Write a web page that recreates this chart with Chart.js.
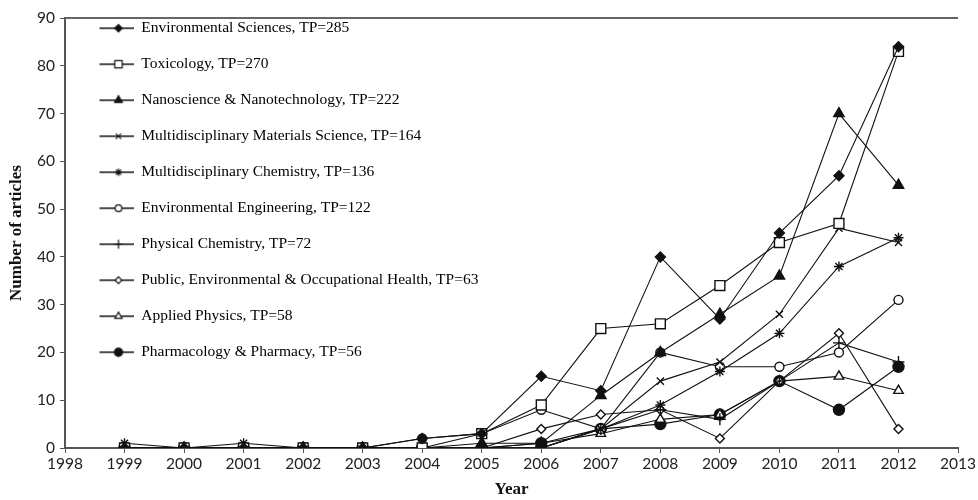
<!DOCTYPE html>
<html>
<head>
<meta charset="utf-8">
<script src="https://cdn.jsdelivr.net/npm/chart.js@4.4.1/dist/chart.umd.min.js"></script>
<style>
  html, body { margin: 0; padding: 0; background: #fff; overflow: hidden; }
  #wrap { width: 978px; height: 500px; position: relative; }
</style>
</head>
<body>
<div id="wrap"><canvas id="linechart" width="978" height="500"></canvas></div>
<script>
const years = [1999, 2000, 2001, 2002, 2003, 2004, 2005, 2006, 2007, 2008, 2009, 2010, 2011, 2012];

const envSciences   = [0, 0, 0, 0, 0, 2, 3, 15, 12, 40, 27, 45, 57, 84];
const toxicology    = [0, 0, 0, 0, 0, 0, 3,  9, 25, 26, 34, 43, 47, 83];
const nanoscience   = [0, 0, 0, 0, 0, 0, 1,  1, 11, 20, 28, 36, 70, 55];
const materialsSci  = [0, 0, 0, 0, 0, 0, 0,  0,  4, 14, 18, 28, 46, 43];
const multiChem     = [1, 0, 1, 0, 0, 0, 0,  0,  4,  9, 16, 24, 38, 44];
const envEngineer   = [0, 0, 0, 0, 0, 2, 3,  8,  4, 20, 17, 17, 20, 31];
const physChem      = [0, 0, 0, 0, 0, 0, 0,  0,  4,  8,  6, 14, 22, 18];
const publicHealth  = [0, 0, 0, 0, 0, 0, 0,  4,  7,  8,  2, 14, 24,  4];
const appliedPhys   = [0, 0, 0, 0, 0, 0, 0,  1,  3,  6,  7, 14, 15, 12];
const pharmacology  = [0, 0, 0, 0, 0, 0, 0,  1,  4,  5,  7, 14,  8, 17];

const seriesNames = [
    'Environmental Sciences, TP=285',
    'Toxicology, TP=270',
    'Nanoscience & Nanotechnology, TP=222',
    'Multidisciplinary Materials Science, TP=164',
    'Multidisciplinary Chemistry, TP=136',
    'Environmental Engineering, TP=122',
    'Physical Chemistry, TP=72',
    'Public, Environmental & Occupational Health, TP=63',
    'Applied Physics, TP=58',
    'Pharmacology & Pharmacy, TP=56'
];
const seriesValues = [envSciences, toxicology, nanoscience, materialsSci, multiChem,
                      envEngineer, physChem, publicHealth, appliedPhys, pharmacology];

// marker look per series: style, radius, filled
const markers = [
    { style: 'rectRot',  r: 5,   fill: true  },
    { style: 'rect',     r: 7,   fill: false },
    { style: 'triangle', r: 6,   fill: true  },
    { style: 'crossRot', r: 5,   fill: false },
    { style: 'star',     r: 5,   fill: false },
    { style: 'circle',   r: 4.5, fill: false },
    { style: 'cross',    r: 6,   fill: false },
    { style: 'rectRot',  r: 4.5, fill: false },
    { style: 'triangle', r: 5.5, fill: false },
    { style: 'circle',   r: 5.5, fill: true  }
];

const ink = '#111';

// legend icon: short line with the marker on it
function legendIcon(m) {
    const c = document.createElement('canvas');
    c.width = 48; c.height = 16;
    const g = c.getContext('2d');
    g.strokeStyle = ink; g.lineWidth = 1.5;
    g.beginPath(); g.moveTo(14, 8); g.lineTo(48, 8); g.stroke();
    g.fillStyle = m.fill ? ink : '#fff';
    g.lineWidth = 1.2;
    Chart.helpers.drawPoint(g, { pointStyle: m.style, radius: m.r * 0.75, borderWidth: 1.2, rotation: 0 }, 33, 8);
    return c;
}

const datasets = seriesNames.map((name, i) => ({
    label: name,
    data: years.map((yr, k) => ({ x: yr, y: seriesValues[i][k] })),
    borderColor: ink,
    borderWidth: 1.1,
    pointStyle: markers[i].style,
    pointRadius: markers[i].r,
    pointBorderWidth: 1.4,
    pointBorderColor: ink,
    pointBackgroundColor: markers[i].fill ? ink : '#fff',
    tension: 0
}));

const topLine = {
    id: 'topLine',
    afterDraw(chart) {
        const { ctx, chartArea } = chart;
        ctx.save();
        ctx.strokeStyle = '#666';
        ctx.lineWidth = 2;
        ctx.beginPath();
        ctx.moveTo(chartArea.left, chartArea.top);
        ctx.lineTo(chartArea.right, chartArea.top);
        ctx.stroke();
        ctx.restore();
    }
};

const tickFont = { family: 'Lato', size: 15.5 };
const titleFont = { family: 'Liberation Serif', size: 17, weight: 'bold' };

new Chart(document.getElementById('linechart').getContext('2d'), {
    type: 'line',
    data: { datasets: datasets },
    plugins: [topLine],
    options: {
        responsive: false,
        animation: false,
        layout: { padding: { top: 18, right: 16, left: 0, bottom: 0 } },
        plugins: {
            tooltip: { enabled: false },
            legend: {
                position: 'chartArea',
                align: 'start',
                labels: {
                    usePointStyle: true,
                    pointStyleWidth: 48,
                    padding: 20.5,
                    color: '#111',
                    font: { family: 'Liberation Serif', size: 15.5 },
                    generateLabels: function(chart) {
                        return chart.data.datasets.map((ds, i) => ({
                            text: ds.label,
                            datasetIndex: i,
                            pointStyle: legendIcon(markers[i]),
                            fillStyle: ink,
                            strokeStyle: ink,
                            lineWidth: 0,
                            hidden: false
                        }));
                    }
                }
            }
        },
        scales: {
            x: {
                type: 'linear',
                min: 1998,
                max: 2013,
                afterFit: s => { s.height = 52; },
                ticks: { stepSize: 1, color: '#222', font: tickFont, padding: 2, maxRotation: 0,
                         autoSkip: false, callback: v => String(v) },
                grid: { display: true, drawOnChartArea: false, drawTicks: true, tickLength: 5, color: '#555' },
                border: { color: '#555', width: 2 },
                title: { display: true, text: 'Year', color: '#111', font: titleFont, padding: { top: 0, bottom: 0 } }
            },
            y: {
                min: 0,
                max: 90,
                afterFit: s => { s.width = 65; },
                ticks: { stepSize: 10, color: '#222', font: tickFont, padding: 5 },
                grid: { display: true, drawOnChartArea: false, drawTicks: true, tickLength: 5, color: '#555' },
                border: { color: '#555', width: 2 },
                title: { display: true, text: 'Number of articles', color: '#111', font: titleFont, padding: { top: 6, bottom: 0 } }
            }
        }
    }
});
</script>
</body>
</html>
